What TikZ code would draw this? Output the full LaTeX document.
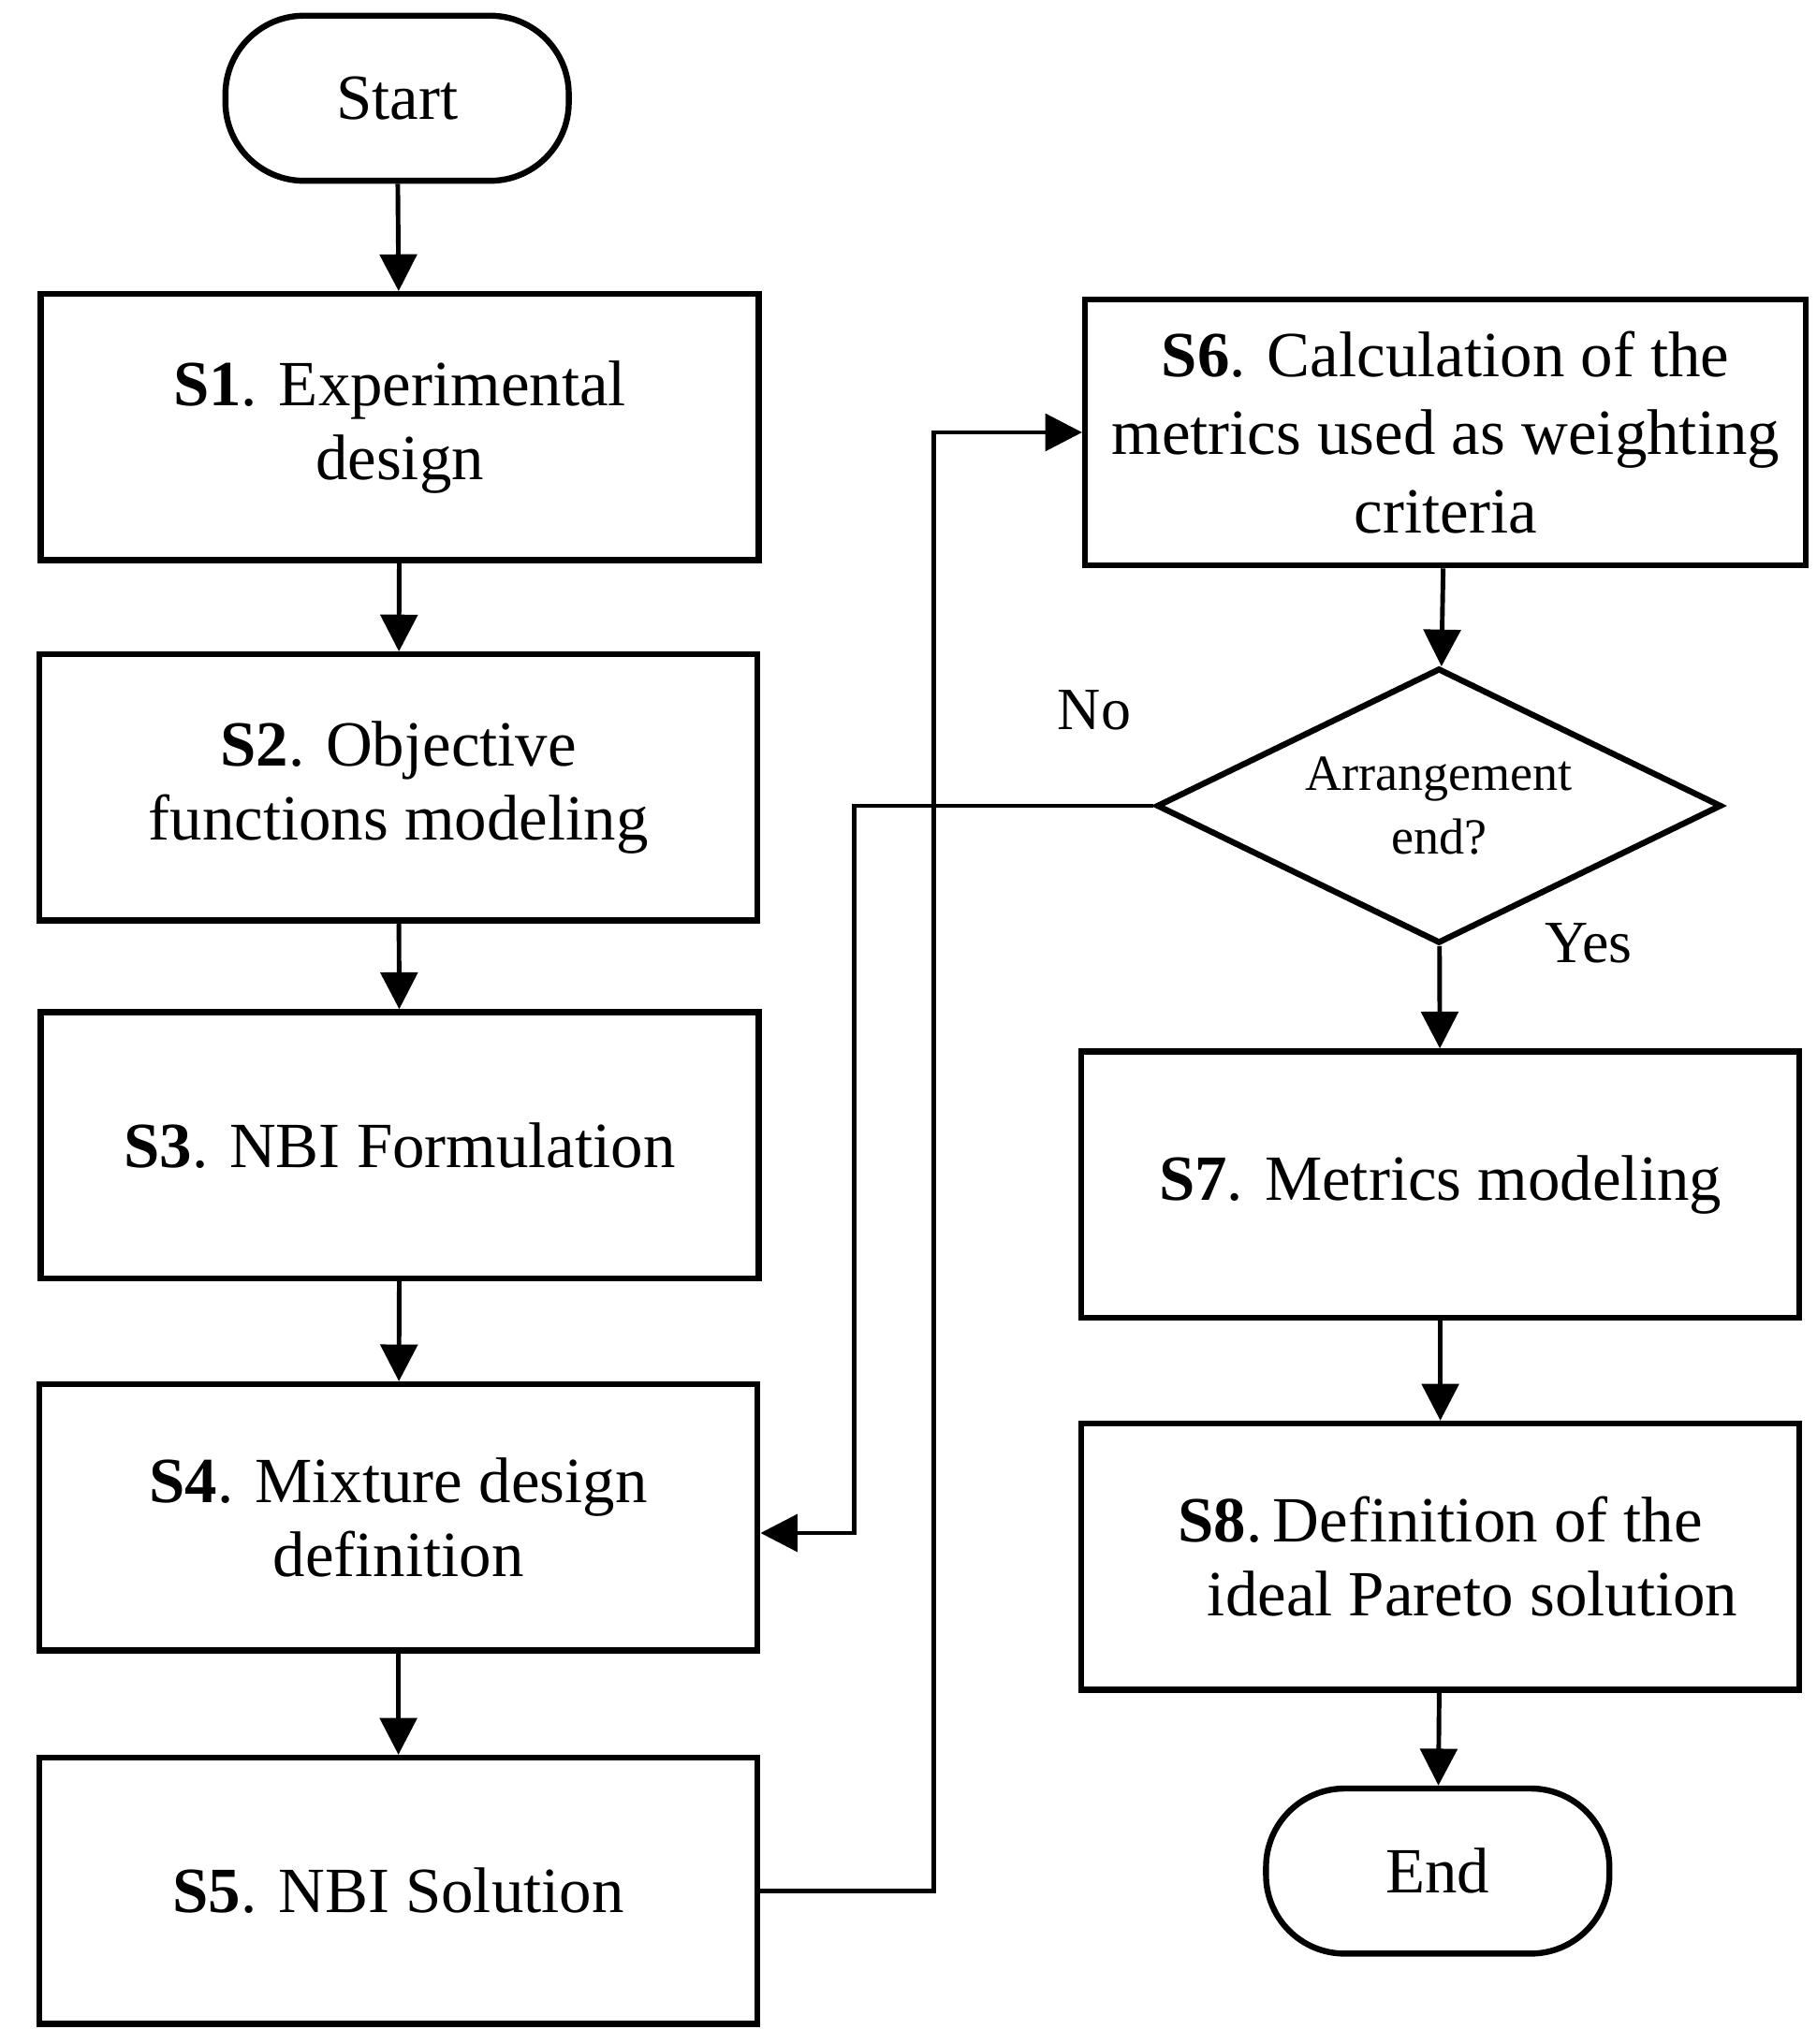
\documentclass[tikz,border=0pt]{standalone}
\usepackage{fontspec}
\setmainfont{Liberation Serif}
\usetikzlibrary{shapes.geometric,arrows.meta}
\tikzset{
  stage/.style={draw, line width=1.3pt, minimum width=5.48cm, minimum height=2.03cm, align=center, font=\fontsize{14}{16}\selectfont},
  term/.style={draw, line width=1.3pt, rounded corners=0.6cm, minimum width=2.62cm, minimum height=1.26cm, font=\fontsize{14}{16}\selectfont},
  flow/.style={line width=1pt, -{Triangle[length=8pt,width=8pt]}}
}
\begin{document}
\begin{tikzpicture}
\useasboundingbox (0,0) rectangle (13.86,-15.6);
% left column
\node[term] (start) at (3.03,-0.75) {Start};
\node[stage] (s1) at (3.05,-3.26) {\textbf{S1}. Experimental\\design};
\node[stage] (s2) at (3.04,-6.01) {\textbf{S2}. Objective\\functions modeling};
\node[stage] (s3) at (3.05,-8.74) {\textbf{S3}. NBI Formulation};
\node[stage] (s4) at (3.04,-11.58) {\textbf{S4}. Mixture design\\definition};
\node[stage] (s5) at (3.04,-14.43) {\textbf{S5}. NBI Solution};
% right column
\node[stage, minimum width=5.5cm, font=\fontsize{14}{17}\selectfont] (s6) at (11.03,-3.30) {\textbf{S6}. Calculation of the\\metrics used as weighting\\criteria};
\node[draw, diamond, aspect=2.05, line width=1.3pt, minimum width=4.31cm, minimum height=2.1cm, inner sep=0pt, align=center, font=\fontsize{11}{14}\selectfont] (dec) at (10.98,-6.15) {Arrangement\\end?};
\node[stage] (s7) at (10.99,-9.04) {\textbf{S7}. Metrics modeling};
\node[stage] (s8) at (10.99,-11.88) {\textbf{S8}.\,Definition of the\\\quad ideal Pareto solution};
\node[term] (end) at (10.97,-14.28) {End};
\node[font=\fontsize{13}{15}\selectfont] (no) at (8.35,-5.42) {No};
\node[font=\fontsize{13}{15}\selectfont] (yes) at (12.12,-7.2) {Yes};
% connectors
\draw[flow] (start) -- (s1);
\draw[flow] (s1) -- (s2);
\draw[flow] (s2) -- (s3);
\draw[flow] (s3) -- (s4);
\draw[flow] (s4) -- (s5);
\draw[flow] (s5.east) -- ++(1.32,0) |- (s6.west);
\draw[flow] (s6) -- (dec);
\draw[flow] (dec) -- (s7);
\draw[flow] (s7) -- (s8);
\draw[flow] (s8) -- (end);
\draw[flow] (dec.west) -- (6.52,-6.15) |- ([yshift=-0.12cm]s4.east);
\end{tikzpicture}
\end{document}
